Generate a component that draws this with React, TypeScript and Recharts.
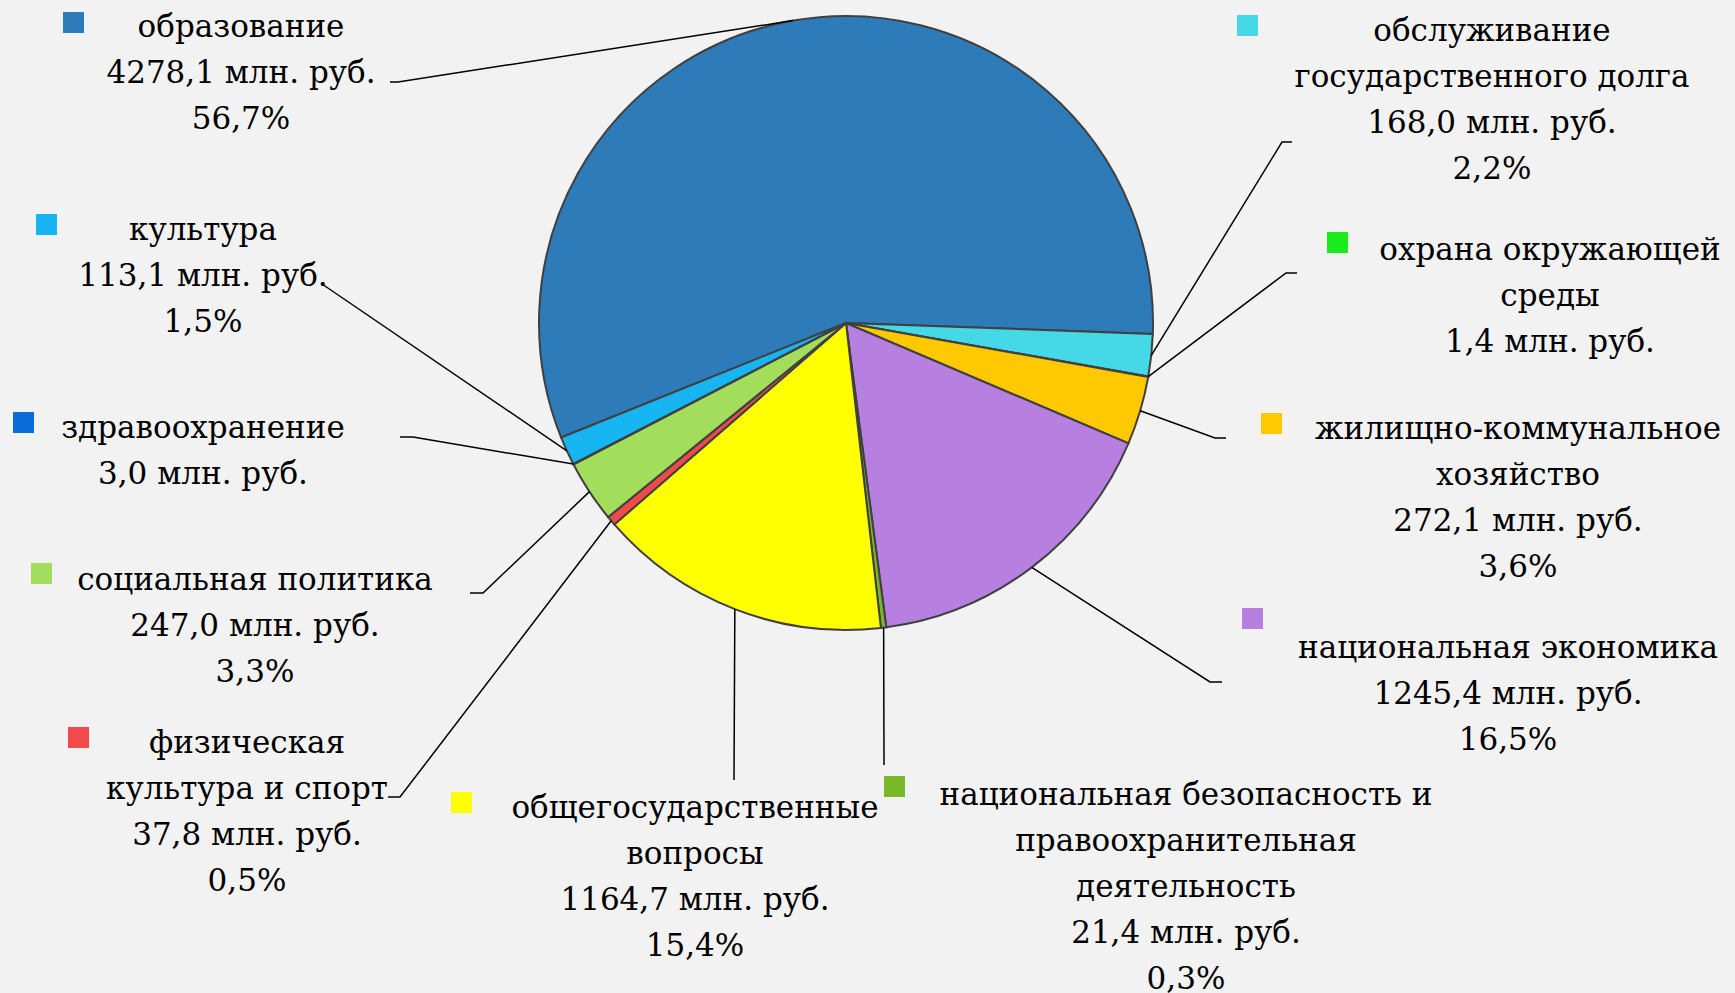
import React from 'react';
import { PieChart, Pie, Cell } from 'recharts';

// budget spending by section, mln rub.
const categories = [
  'образование',
  'обслуживание\nгосударственного долга',
  'охрана окружающей\nсреды',
  'жилищно-коммунальное\nхозяйство',
  'национальная экономика',
  'национальная безопасность и\nправоохранительная\nдеятельность',
  'общегосударственные\nвопросы',
  'физическая\nкультура и спорт',
  'социальная политика',
  'здравоохранение',
  'культура',
];
const values = [4278.1, 168.0, 1.4, 272.1, 1245.4, 21.4, 1164.7, 37.8, 247.0, 3.0, 113.1];
// shares as printed on the chart (empty where the chart shows none)
const shareLabels = ['56,7%', '2,2%', '', '3,6%', '16,5%', '0,3%', '15,4%', '0,5%', '3,3%', '', '1,5%'];

const sliceColors = [
  '#2E7BBA', '#45D8E6', '#1AEB1A', '#FFC800', '#B67FE0', '#78B829',
  '#FFFF00', '#F24A4A', '#A2DE5C', '#0A6CD8', '#17B6F2',
];

const data = categories.map((name, i) => ({ name, value: values[i] }));

// labels were dragged by hand in the original, so their spots are fixed here
const labelPos = [
  { x: 241, y: 37, key: [63, 12], elbow: [[398, 82], [390, 82]] },
  { x: 1492, y: 41, key: [1237, 15], elbow: [[1282, 142], [1292, 142]] },
  { x: 1550, y: 260, key: [1327, 232], elbow: [[1286, 273], [1297, 273]] },
  { x: 1518, y: 439, key: [1261, 413], elbow: [[1215, 438], [1226, 438]] },
  { x: 1508, y: 658, key: [1242, 608], elbow: [[1210, 682], [1222, 682]] },
  { x: 1186, y: 805, key: [884, 776], elbow: [[884, 765]] },
  { x: 695, y: 818, key: [451, 792], elbow: [[734, 780]] },
  { x: 247, y: 753, key: [68, 727], elbow: [[400, 797], [388, 797]] },
  { x: 255, y: 590, key: [31, 563], elbow: [[483, 593], [470, 593]] },
  { x: 203, y: 438, key: [13, 412], elbow: [[413, 437], [400, 437]] },
  { x: 203, y: 240, key: [36, 214], elbow: [[322, 284]] },
];

const FONT = '"DejaVu Serif", serif';
const FONT_SIZE = 31;
const LINE = 46;

const fmt = (v: number) => v.toFixed(1).replace('.', ',');

const renderLabel = (props: any) => {
  const { cx, cy, midAngle, outerRadius, index } = props;
  const pos = labelPos[index];
  const rad = Math.PI / 180;
  const ex = cx + outerRadius * Math.cos(-midAngle * rad);
  const ey = cy + outerRadius * Math.sin(-midAngle * rad);
  const pts = [[ex, ey], ...pos.elbow];

  const lines = [...categories[index].split('\n'), `${fmt(values[index])} млн. руб.`];
  if (shareLabels[index]) lines.push(shareLabels[index]);

  return (
    <g key={`lbl-${index}`}>
      <polyline
        points={pts.map((p) => p.join(',')).join(' ')}
        fill="none"
        stroke="#000"
        strokeWidth={1.5}
      />
      <rect x={pos.key[0]} y={pos.key[1]} width={21} height={21} fill={sliceColors[index]} />
      <text x={pos.x} y={pos.y} textAnchor="middle" fontFamily={FONT} fontSize={FONT_SIZE} fill="#000">
        {lines.map((l, i) => (
          <tspan key={i} x={pos.x} dy={i === 0 ? 0 : LINE}>
            {l}
          </tspan>
        ))}
      </text>
    </g>
  );
};

const App = () => {
  return (
    <div style={{ position: 'absolute', left: 0, top: 0, width: 1735, height: 993, background: '#F2F2F2' }}>
      <PieChart width={1735} height={993} margin={{ top: 0, right: 0, bottom: 0, left: 0 }}>
        <Pie
          data={data}
          dataKey="value"
          nameKey="name"
          cx={846}
          cy={323}
          outerRadius={307}
          startAngle={201.9}
          endAngle={-158.1}
          stroke="#404040"
          strokeWidth={2}
          label={renderLabel}
          labelLine={false}
          isAnimationActive={false}
        >
          {data.map((entry, index) => (
            <Cell key={`cell-${index}`} fill={sliceColors[index]} />
          ))}
        </Pie>
      </PieChart>
    </div>
  );
};

export default App;
